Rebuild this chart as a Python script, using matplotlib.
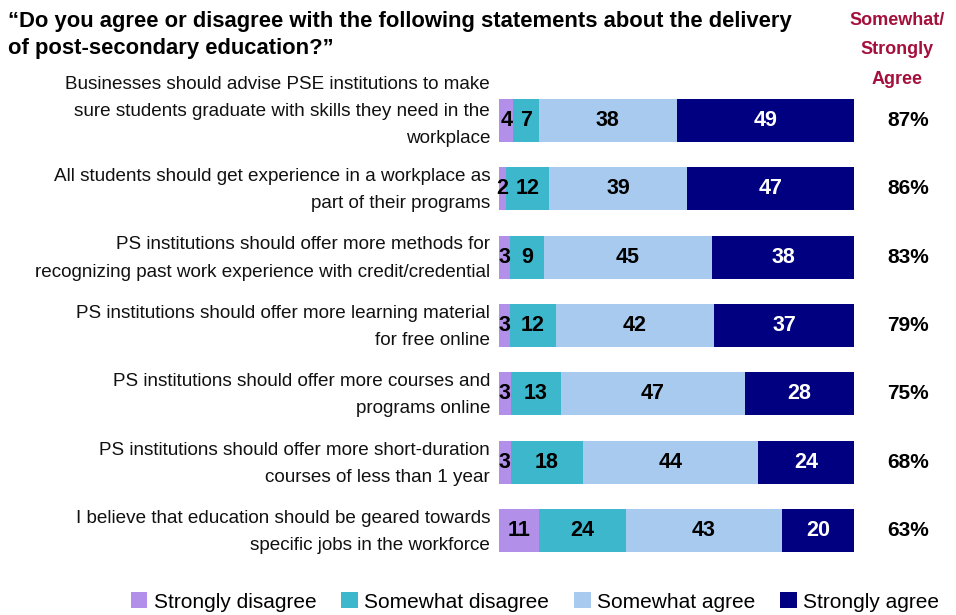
import matplotlib
matplotlib.use("Agg")
import matplotlib.pyplot as plt
from matplotlib.patches import Patch
import numpy as np

# Statements (top to bottom) and response shares (%)
statements = [
    "Businesses should advise PSE institutions to make\nsure students graduate with skills they need in the\nworkplace",
    "All students should get experience in a workplace as\npart of their programs",
    "PS institutions should offer more methods for\nrecognizing past work experience with credit/credential",
    "PS institutions should offer more learning material\nfor free online",
    "PS institutions should offer more courses and\nprograms online",
    "PS institutions should offer more short-duration\ncourses of less than 1 year",
    "I believe that education should be geared towards\nspecific jobs in the workforce",
]
strongly_disagree = [4, 2, 3, 3, 3, 3, 11]
somewhat_disagree = [7, 12, 9, 12, 13, 18, 24]
somewhat_agree = [38, 39, 45, 42, 47, 44, 43]
strongly_agree = [49, 47, 38, 37, 28, 24, 20]
net_agree = [87, 86, 83, 79, 75, 68, 63]

series_names = ["Strongly disagree", "Somewhat disagree", "Somewhat agree", "Strongly agree"]
colors = ["#B28FE8", "#3DB7CC", "#A8CAEF", "#000080"]
text_colors = ["black", "black", "black", "white"]

plt.rcParams["font.family"] = ["Liberation Sans", "DejaVu Sans"]

fig = plt.figure(figsize=(9.56, 6.15), dpi=100)
ax = fig.add_axes([499 / 956, 1 - 565 / 615, 355 / 956, 479 / 615])

data = np.array([strongly_disagree, somewhat_disagree, somewhat_agree, strongly_agree], dtype=float)
totals = data.sum(axis=0)
shares = data / totals * 100
n = len(statements)
y = np.arange(n)
left = np.zeros(n)
for k in range(4):
    ax.barh(y, shares[k], left=left, height=0.63, color=colors[k], edgecolor="none")
    for i in range(n):
        ax.text(left[i] + shares[k][i] / 2, y[i], f"{int(data[k][i])}",
                ha="center", va="center", fontsize=15.5, fontweight="bold",
                color=text_colors[k])
    left += shares[k]

ax.set_xlim(0, 100)
ax.set_ylim(n - 0.5, -0.5)
ax.axis("off")

for i, (lab, pct) in enumerate(zip(statements, net_agree)):
    nlines = lab.count("\n") + 1
    ax.text(-0.025, y[i] - 0.15 * max(0, nlines - 2) + 0.02, lab,
            transform=ax.get_yaxis_transform(), ha="right", va="center",
            fontsize=13.6, linespacing=1.78, color="#111111")
    ax.text(1.152, y[i], f"{pct}%", transform=ax.get_yaxis_transform(),
            ha="center", va="center", fontsize=15, fontweight="bold")

fig.text(8 / 956, 1 - 35 / 615,
         "\u201cDo you agree or disagree with the following statements about the delivery\nof post-secondary education?\u201d",
         ha="left", va="center", fontsize=15.8, fontweight="bold", linespacing=1.38)
fig.text(897 / 956, 1 - 50 / 615, "Somewhat/\nStrongly\nAgree",
         ha="center", va="center", fontsize=13, fontweight="bold",
         color="#A50F3B", linespacing=1.95)

handles = [Patch(facecolor=c, edgecolor="none") for c in colors]
fig.legend(handles, series_names, loc="center", bbox_to_anchor=(535 / 956, 1 - 602 / 615),
           ncol=4, frameon=False, fontsize=15, handlelength=0.8, handleheight=0.8,
           handletextpad=0.3, columnspacing=1.2, borderaxespad=0)

fig.savefig("out.png", dpi=100)
